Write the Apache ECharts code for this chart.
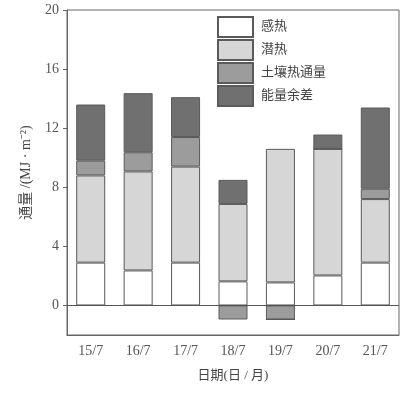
<!DOCTYPE html>
<html><head><meta charset="utf-8">
<script src="https://cdn.jsdelivr.net/npm/echarts@6/dist/echarts.min.js"></script>
<style>html,body{margin:0;padding:0;background:#fff}#c{width:407px;height:394px}</style>
</head><body><div id="c"></div>
<script>
const categories = ['15/7','16/7','17/7','18/7','19/7','20/7','21/7'];
const sensible = [2.9, 2.37, 2.9, 1.63, 1.56, 2.03, 2.9];
const latent = [5.9, 6.7, 6.5, 5.24, 9.04, 8.57, 4.3];
const soil = [1.0, 1.3, 2.0, -0.95, -0.95, 0, 0.7];
const residual = [3.8, 4.0, 2.7, 1.63, 0, 0.97, 5.5];
const yTicks = [0, 4, 8, 12, 16, 20];
const names = ['感热', '潜热', '土壤热通量', '能量余差'];
const colors = ['#ffffff', '#d6d6d6', '#9c9c9c', '#707070'];

const serif = '"Liberation Serif", "DejaVu Serif", serif';
const cjk = '"Liberation Serif", "Noto Sans CJK SC", serif';
const chart = echarts.init(document.getElementById('c'));
const mk = (i, data) => ({
  name: names[i], type: 'bar', stack: 'a', data: data, barWidth: 29,
  itemStyle: { color: colors[i], borderColor: '#5a5a5a', borderWidth: 1 },
  emphasis: { disabled: true }
});
const series = [mk(0, sensible), mk(1, latent), mk(2, soil), mk(3, residual)];
series[0].markLine = {
  silent: true, symbol: 'none', label: { show: false },
  lineStyle: { color: '#555', width: 1, type: 'solid' },
  data: [{ yAxis: 0 }]
};
chart.setOption({
  animation: false,
  grid: { left: 67, right: 8, top: 10, bottom: 59, show: true, borderColor: '#666', borderWidth: 1 },
  legend: {
    orient: 'vertical', left: 217, top: 16, padding: 0, itemGap: 1, itemWidth: 35, itemHeight: 20,
    icon: 'rect', selectedMode: false,
    textStyle: { fontFamily: cjk, fontSize: 13, color: '#444', padding: [0, 0, 0, 3] },
    data: names
  },
  xAxis: {
    type: 'category', data: categories, position: 'bottom',
    axisLine: { onZero: false, lineStyle: { color: '#666' } },
    axisTick: { alignWithLabel: true, inside: true, length: 3, lineStyle: { color: '#666' } },
    axisLabel: { fontFamily: serif, fontSize: 14, color: '#555', margin: 9 },
    name: '日期(日 / 月)', nameLocation: 'middle', nameGap: 34,
    nameTextStyle: { fontFamily: cjk, fontSize: 13, color: '#444' }
  },
  yAxis: {
    type: 'value', min: -2, max: 20,
    axisLine: { show: true, lineStyle: { color: '#666' } },
    axisTick: { show: true, length: 4, customValues: yTicks, lineStyle: { color: '#666' } },
    axisLabel: { customValues: yTicks, fontFamily: serif, fontSize: 14, color: '#555', margin: 8 },
    splitLine: { show: false },
    name: '通量 /(MJ · m⁻²)', nameLocation: 'middle', nameGap: 34,
    nameTextStyle: { fontFamily: cjk, fontSize: 14, color: '#444' }
  },
  series: series
});
</script></body></html>
